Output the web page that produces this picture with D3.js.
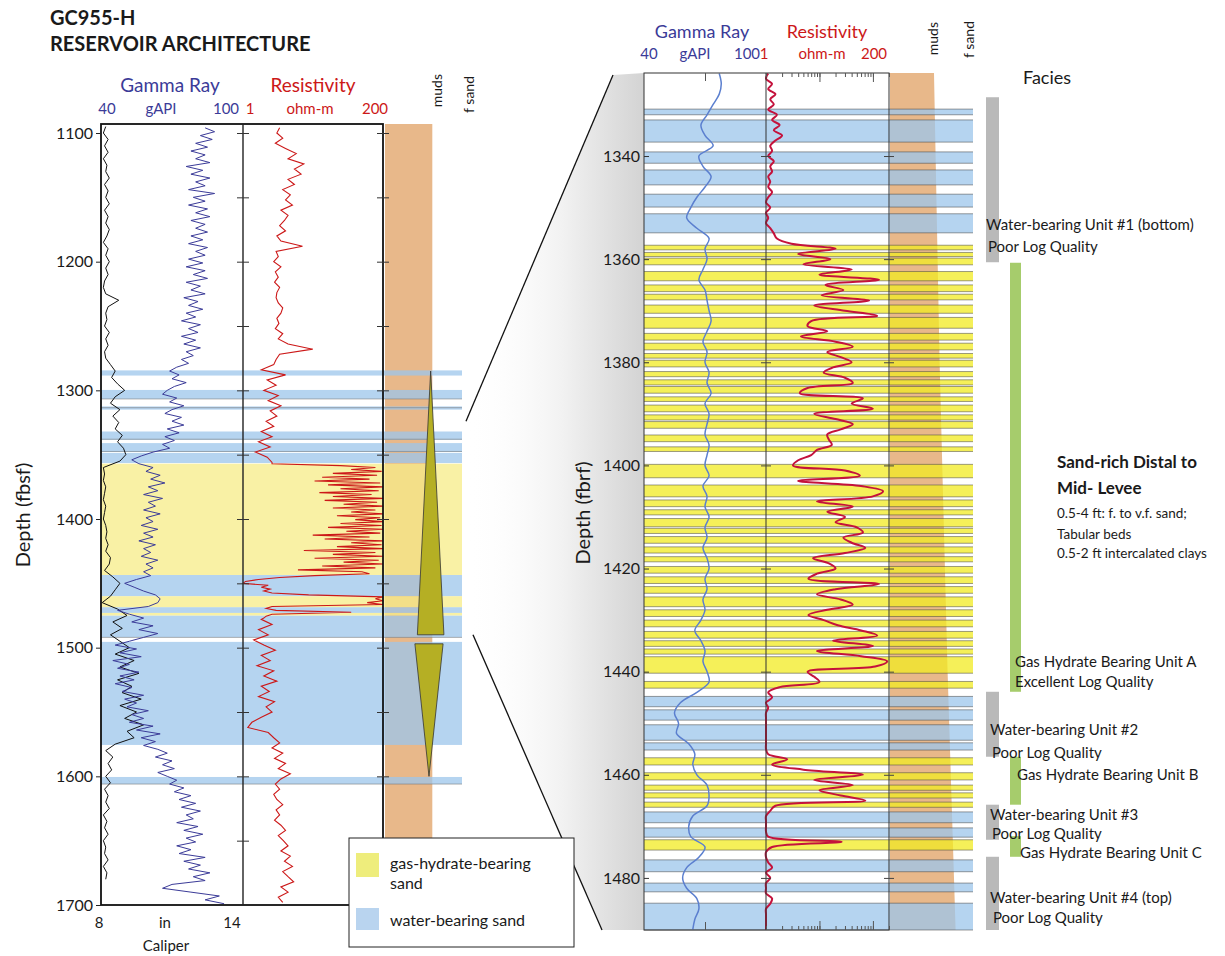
<!DOCTYPE html>
<html>
<head>
<meta charset="utf-8">
<script src="https://cdn.jsdelivr.net/npm/d3@7"></script>
<style>
  body { margin: 0; background: #fff; }
  svg { display: block; }
  text { font-family: Lato, "Open Sans", sans-serif; fill: #1a1a1a; }
</style>
</head>
<body>
<svg id="chart" width="1225" height="956"></svg>
<script>
// ---- data ----
const leftDepthTicks = [1100, 1200, 1300, 1400, 1500, 1600, 1700];
const leftCrossTicks = [1100, 1150, 1200, 1250, 1300, 1350, 1400, 1450, 1500, 1550, 1600, 1650];
const rightDepthTicks = [1340, 1360, 1380, 1400, 1420, 1440, 1460, 1480];
const resLogTicks = [1, 2, 3, 4, 5, 6, 7, 8, 9, 10, 20, 30, 40, 50, 60, 70, 80, 90, 100, 200];
const resMajorTicks = [1, 10, 100];

// caliper (in), 1095 ft every 5 ft
const caliperStart = 1095, caliperStep = 5;
const caliper = [
  8.2, 8.1, 8.3, 8.15, 8.3, 8.1, 8.25, 8.2, 8.35, 8.15,
  8.3, 8.2, 8.35, 8.15, 8.3, 8.2, 8.35, 8.25, 8.1, 8.3,
  8.2, 8.35, 8.2, 8.3, 8.15, 8.1, 8.2, 8.75, 8.3, 8.2,
  8.25, 8.15, 8.35, 8.2, 8.3, 8.15, 8.2, 8.4, 8.6, 8.45,
  8.7, 9.0, 8.6, 8.4, 8.8, 8.5, 8.75, 8.6, 8.9, 8.7,
  8.95, 9.05, 8.8, 8.1, 8.15, 8.1, 8.2, 8.15, 8.1, 8.2,
  8.15, 8.1, 8.2, 8.25, 8.2, 8.3, 8.2, 8.4, 8.35, 8.15,
  8.5, 8.8, 8.6, 8.4, 8.05, 8.7, 9.1, 8.5, 8.9, 8.4,
  8.8, 9.2, 8.6, 9.4, 8.8, 9.6, 8.7, 9.3, 8.9, 9.7,
  8.8, 9.5, 9.0, 9.8, 9.1, 9.4, 8.6, 8.2, 8.5, 8.3,
  8.45, 8.2, 8.4, 8.15, 8.3, 8.2, 8.35, 8.1, 8.25, 8.15,
  8.3, 8.1, 8.2, 8.15, 8.3, 8.1, 8.25, 8.2
];

// gamma ray (gAPI), 1096 ft every 3 ft
const gammaLeftStart = 1096, gammaLeftStep = 3;
const gammaLeft = [
  84, 88, 82, 87, 80, 85, 78, 84, 80, 86,
  76, 83, 78, 86, 80, 84, 77, 88, 79, 84,
  77, 85, 80, 86, 78, 84, 80, 85, 78, 83,
  77, 85, 80, 84, 77, 83, 76, 84, 79, 85,
  76, 82, 78, 84, 75, 81, 77, 83, 76, 80,
  74, 82, 77, 81, 74, 80, 75, 82, 76, 79,
  74, 77, 72, 69, 73, 70, 76, 71, 68, 66,
  72, 69, 75, 70, 67, 74, 70, 75, 68, 73,
  67, 71, 66, 69, 62, 57, 53, 56, 62, 59,
  65, 61, 67, 60, 64, 58, 66, 60, 63, 58,
  65, 59, 62, 57, 64, 58, 62, 56, 63, 58,
  61, 57, 64, 59, 62, 58, 61, 55, 50, 54,
  58, 63, 65, 64, 60, 47, 52, 58, 53, 62,
  56, 64, 58, 52, 46, 55, 48, 57, 45, 52,
  47, 56, 48, 54, 46, 53, 49, 58, 50, 55,
  51, 60, 53, 58, 52, 62, 55, 65, 57, 63,
  58, 64, 68, 63, 70, 66, 71, 64, 68, 72,
  69, 75, 71, 78, 73, 80, 74, 82, 76, 79,
  72, 81, 75, 83, 76, 80, 72, 78, 73, 84,
  75, 82, 77, 86, 79, 84, 70, 66, 78, 90,
  84, 92
];

// resistivity (ohm-m), three depth segments
const resUpperStart = 1096, resUpperStep = 4;
const resUpper = [
  4.0, 3.6, 4.5, 3.4, 5.0, 7.5, 5.5, 10, 7, 9,
  5.5, 7, 4.5, 6, 5, 6.5, 4.2, 5.5, 4.8, 4,
  5, 3.6, 4.2, 9.5, 3.5, 3.8, 3.2, 4.2, 3.4, 3.8,
  3.3, 4.0, 3.6, 3.5, 3.8, 4.5, 4.2, 3.6, 3.9, 3.4,
  4.5, 3.8, 5.5, 14, 4.0, 3.5, 3.2, 2.0, 5.0, 2.5,
  3.5, 2.2, 3.8, 2.6, 4.2, 2.8, 3.6, 2.4, 3.2, 2.0,
  3.0, 1.8, 2.8, 1.6, 2.5, 3.0
];
const resHydrateStart = 1357, resHydrateStep = 1.5;
const resHydrate = [
  3, 40, 150, 60, 190, 30, 160, 20, 120, 15,
  180, 25, 200, 40, 170, 18, 130, 30, 200, 22,
  160, 45, 200, 30, 150, 60, 200, 35, 180, 70,
  200, 40, 190, 25, 200, 50, 180, 14, 120, 22,
  200, 60, 190, 35, 200, 10, 150, 30, 200, 15,
  170, 45, 200, 20, 150, 8, 90, 120, 15, 4,
  1.8, 1.1, 1.0, 2.6, 2.0, 2.8, 2.2, 3.0, 12, 200,
  150, 200, 110, 200, 3, 2.4, 3.5, 60, 3, 2.4,
  2.2
];
const resLowerStart = 1478, resLowerStep = 4;
const resLower = [
  2.0, 3.0, 1.8, 2.6, 1.5, 2.2, 3.4, 2.0, 2.8, 1.7,
  3.2, 2.2, 3.6, 2.0, 2.7, 1.8, 3.3, 2.4, 3.0, 2.0,
  1.4, 1.2, 2.6, 3.2, 4.0, 3.0, 4.5, 3.3, 5.0, 3.8,
  6.0, 4.2, 3.4, 4.0, 3.2, 3.6, 4.5, 3.5, 4.0, 3.3,
  4.2, 5.0, 3.8, 4.6, 5.5, 4.2, 6.0, 4.8, 6.5, 4.5,
  5.5, 6.8, 4.2, 5.5, 3.8, 4.5
];

// detail panel: gamma every 2 ft, resistivity every 1 ft from 1324 ft
const gammaRightStart = 1324, gammaRightStep = 2;
const gammaRight = [
  77, 78, 77, 74, 71, 68, 70, 74, 67, 69,
  73, 70, 66, 63, 61, 66, 72, 70, 71, 69,
  67, 70, 71, 72, 73, 71, 69, 71, 70, 72,
  71, 73, 70, 72, 71, 70, 72, 71, 70, 72,
  69, 71, 70, 72, 70, 71, 69, 71, 72, 70,
  71, 69, 70, 68, 65, 68, 70, 69, 71, 72,
  66, 58, 55, 57, 56, 62, 65, 64, 66, 71,
  72, 71, 64, 62, 63, 70, 67, 61, 59, 61,
  66, 67, 65, 64
];
const resRightStart = 1324, resRightStep = 1;
const resRight = [
  1.1, 1.0, 1.3, 1.1, 1.5, 1.2, 1.4, 1.1, 1.6, 1.3,
  1.8, 1.4, 2.0, 1.5, 1.2, 1.3, 1.1, 1.4, 1.2, 1.3,
  1.1, 1.2, 1.1, 1.3, 1.1, 1.0, 1.2, 1.0, 1.1, 1.0,
  1.2, 1.4, 1.6, 3.0, 20, 4, 16, 5, 40, 10,
  130, 13, 28, 11, 85, 8, 30, 120, 7, 6,
  14, 4.5, 20, 42, 14, 25, 40, 18, 12, 30,
  42, 6, 4.3, 65, 40, 100, 8, 20, 42, 25,
  14, 15, 17, 9, 7, 4, 3.2, 30, 57, 4,
  60, 155, 100, 9, 42, 14, 30, 20, 50, 65,
  28, 40, 72, 30, 7.6, 15, 20, 9, 6.2, 130,
  20, 9, 25, 42, 14, 6.2, 12, 22, 60, 120,
  18, 100, 9, 60, 185, 110, 6, 8, 10, 1.8,
  1.1, 1.3, 1.0, 1.1, 1.0, 1.0, 1.0, 1.0, 1.0, 1.0,
  1.0, 1.0, 1.1, 2.5, 1.3, 5, 65, 8, 42, 10,
  25, 72, 1.5, 1.2, 1.0, 1.0, 1.0, 1.0, 1.1, 26,
  1.3, 1.0, 1.0, 1.1, 1.3, 1.0, 1.2, 1.0, 1.0, 1.0,
  1.3, 1.2, 1.0, 1.0, 1.0, 1.0, 1.0
];

// sand intervals (ft)
const leftWaterSands = [[1284.5, 1288.5], [1299.7, 1306.7], [1312.5, 1315], [1332, 1338.5], [1341, 1348],
  [1348.7, 1356.5], [1443.5, 1460], [1468.5, 1473], [1475, 1492], [1495.5, 1575.6], [1600.5, 1606]];
const leftHydrateSands = [[1357, 1443.5], [1460, 1468.5], [1473, 1475]];
const leftBedLines = [1306.7, 1313.5, 1338, 1347.5, 1492, 1606];

const rightWaterSands = [[1330.9, 1332.0], [1333.0, 1337.3], [1339.2, 1341.4], [1342.7, 1345.6],
  [1347.4, 1349.9], [1351.2, 1354.9], [1444.8, 1446.8], [1447.4, 1449.4], [1450.3, 1453.3],
  [1453.8, 1455.2], [1467.2, 1469.3], [1470.3, 1472.1], [1476.5, 1478.8], [1481.0, 1482.7], [1484.9, 1490.1]];
const rightHydrateSands = [[1357.3, 1358.2], [1358.7, 1359.5], [1359.8, 1361.1], [1362.4, 1364.2],
  [1365.0, 1366.3], [1366.8, 1367.9], [1368.9, 1370.5], [1371.3, 1373.4], [1374.4, 1375.7],
  [1376.3, 1377.6], [1378.3, 1379.2], [1379.6, 1380.9], [1381.8, 1382.8], [1383.4, 1384.4],
  [1384.7, 1386.0], [1386.7, 1387.6], [1388.3, 1389.6], [1390.2, 1391.2], [1391.5, 1392.8],
  [1394.1, 1395.4], [1396.4, 1397.3], [1399.8, 1402.4], [1403.8, 1406.1], [1406.7, 1408.0],
  [1408.6, 1409.6], [1410.3, 1411.9], [1412.2, 1413.2], [1413.8, 1415.1], [1415.8, 1417.0],
  [1417.7, 1418.7], [1419.6, 1420.9], [1421.6, 1422.9], [1423.5, 1424.8], [1425.5, 1427.4],
  [1428.0, 1429.3], [1430.0, 1431.3], [1432.2, 1433.5], [1434.0, 1435.1], [1435.6, 1436.6],
  [1437.1, 1440.3], [1441.9, 1443.2], [1456.7, 1458.1], [1459.6, 1461.0], [1462.0, 1463.0],
  [1463.5, 1464.5], [1465.3, 1466.3], [1472.6, 1474.6]];

// grain size column (0 = muds, 1 = f sand)
const leftMudDepths = [1093, 1700];
const leftMudGrain = [0.57, 0.57];
const rightMudDepths = [1323.9, 1380, 1440, 1490.1];
const rightMudGrain = [0.55, 0.62, 0.72, 0.82];
const sandTrends = [
  { top: 1285, bottom: 1490, wide: 'bottom', grain: 0.55, spread: 0.16 },
  { top: 1497, bottom: 1600, wide: 'top', grain: 0.53, spread: 0.17 }
];

const faciesUnits = [
  { top: 1328.6, bottom: 1360.6, type: 'water' },
  { top: 1360.7, bottom: 1443.9, type: 'hydrate' },
  { top: 1443.9, bottom: 1456.5, type: 'water' },
  { top: 1456.5, bottom: 1465.8, type: 'hydrate' },
  { top: 1465.8, bottom: 1472.6, type: 'water' },
  { top: 1471.9, bottom: 1475.9, type: 'hydrate' },
  { top: 1475.9, bottom: 1490.1, type: 'water' }
];

const legendItems = ['gas-hydrate-bearing|sand', 'water-bearing sand'];

// ---- drawing ----
const svg = d3.select('#chart');
const defs = svg.append('defs');

const col = {
  gamma: '#3b3b98', res: '#cc1818', gammaR: '#5b7fcf', resR: '#c4123c',
  blue: '#9cc6eb', yellowL: '#f7ec87', yellowR: '#f2eb22', tan: '#e8b88a',
  grey: '#b9b9b9', green: '#a6cc6c', olive: '#b5af24'
};

function series(start, step, values) {
  return values.map((v, i) => ({ d: start + i * step, v: v }));
}

const yL = d3.scaleLinear().domain([1093, 1700]).range([124, 905]);
const xCal = d3.scaleLinear().domain([8, 14]).range([101, 243]);
const xGrL = d3.scaleLinear().domain([40, 100]).range([101, 243]);
const xResL = d3.scaleLog().domain([1, 200]).range([243, 383]).clamp(true);
const grainL = d3.scaleLinear().domain([0, 1]).range([385, 468]);

const yR = d3.scaleLinear().domain([1323.9, 1490.1]).range([73, 930]);
const xGrR = d3.scaleLinear().domain([40, 100]).range([644, 766]);
const xResR = d3.scaleLog().domain([1, 200]).range([766, 889]).clamp(true);
const grainR = d3.scaleLinear().domain([0, 1]).range([890, 970]);

defs.append('clipPath').attr('id', 'clipL').append('rect')
  .attr('x', 101).attr('y', 124).attr('width', 283).attr('height', 781);
defs.append('clipPath').attr('id', 'clipR').append('rect')
  .attr('x', 644).attr('y', 73).attr('width', 245).attr('height', 857);

// zoom funnel shading
const grad = defs.append('linearGradient').attr('id', 'funnel')
  .attr('gradientUnits', 'userSpaceOnUse').attr('x1', 466).attr('x2', 644).attr('y1', 0).attr('y2', 0);
grad.append('stop').attr('offset', 0).attr('stop-color', '#ffffff').attr('stop-opacity', 0);
grad.append('stop').attr('offset', 0.55).attr('stop-color', '#f1f1f1').attr('stop-opacity', 1);
grad.append('stop').attr('offset', 1).attr('stop-color', '#d3d3d3').attr('stop-opacity', 1);

const topL = yL(1324), botL = yL(1490);
svg.append('path')
  .attr('d', `M466,${topL} L613,75 L644,73 L644,930 L602,930 L473,${botL} Z`)
  .attr('fill', 'url(#funnel)');
svg.append('line').attr('x1', 466).attr('y1', topL).attr('x2', 613).attr('y2', 75)
  .attr('stroke', '#111').attr('stroke-width', 1.3);
svg.append('line').attr('x1', 473).attr('y1', botL).attr('x2', 602).attr('y2', 930)
  .attr('stroke', '#111').attr('stroke-width', 1.3);

// ---------- left panel ----------
const gL = svg.append('g');

const mudAreaL = d3.area().x0(grainL(0)).x1(d => grainL(d.g)).y(d => yL(d.d));
gL.append('path')
  .attr('d', mudAreaL(leftMudDepths.map((d, i) => ({ d: d, g: leftMudGrain[i] }))))
  .attr('fill', col.tan);

gL.selectAll('rect.wl').data(leftWaterSands).join('rect')
  .attr('x', 101).attr('width', 361)
  .attr('y', d => yL(d[0])).attr('height', d => yL(d[1]) - yL(d[0]))
  .attr('fill', col.blue).attr('fill-opacity', 0.75);
gL.selectAll('rect.yl').data(leftHydrateSands).join('rect')
  .attr('x', 101).attr('width', 361)
  .attr('y', d => yL(d[0])).attr('height', d => yL(d[1]) - yL(d[0]))
  .attr('fill', col.yellowL).attr('fill-opacity', 0.75);
gL.selectAll('line.bl').data(leftBedLines).join('line')
  .attr('x1', 101).attr('x2', 462).attr('y1', d => yL(d)).attr('y2', d => yL(d))
  .attr('stroke', '#777').attr('stroke-width', 0.8).attr('stroke-opacity', 0.7);

sandTrends.forEach(t => {
  const c = grainL(t.grain), w = grainL(t.spread) - grainL(0);
  const pts = t.wide === 'bottom'
    ? [[c, yL(t.top)], [c - w, yL(t.bottom)], [c + w, yL(t.bottom)]]
    : [[c - w, yL(t.top)], [c + w, yL(t.top)], [c, yL(t.bottom)]];
  gL.append('path').attr('d', 'M' + pts.join('L') + 'Z')
    .attr('fill', col.olive).attr('stroke', '#333').attr('stroke-width', 0.8);
});

const curvesL = gL.append('g').attr('clip-path', 'url(#clipL)');
curvesL.append('path')
  .attr('d', d3.line().x(d => xCal(d.v)).y(d => yL(d.d))(series(caliperStart, caliperStep, caliper)))
  .attr('fill', 'none').attr('stroke', '#111').attr('stroke-width', 1);
curvesL.append('path')
  .attr('d', d3.line().x(d => xGrL(d.v)).y(d => yL(d.d))(series(gammaLeftStart, gammaLeftStep, gammaLeft)))
  .attr('fill', 'none').attr('stroke', col.gamma).attr('stroke-width', 1);
const resL = series(resUpperStart, resUpperStep, resUpper)
  .concat(series(resHydrateStart, resHydrateStep, resHydrate))
  .concat(series(resLowerStart, resLowerStep, resLower));
curvesL.append('path')
  .attr('d', d3.line().x(d => xResL(d.v)).y(d => yL(d.d))(resL))
  .attr('fill', 'none').attr('stroke', col.res).attr('stroke-width', 1.1);

gL.append('rect').attr('x', 101).attr('y', 124).attr('width', 282).attr('height', 781)
  .attr('fill', 'none').attr('stroke', '#111').attr('stroke-width', 1.8);
gL.append('line').attr('x1', 243).attr('x2', 243).attr('y1', 124).attr('y2', 905)
  .attr('stroke', '#222').attr('stroke-width', 1.4);

[243, 383].forEach(x => {
  const a = gL.append('g').attr('transform', `translate(${x - 6},0)`)
    .call(d3.axisRight(yL).tickValues(leftCrossTicks).tickSize(12).tickFormat(''));
  a.select('.domain').remove();
  a.selectAll('line').attr('stroke', '#333').attr('stroke-width', 1);
});

const axL = gL.append('g').attr('transform', 'translate(101,0)')
  .call(d3.axisLeft(yL).tickValues(leftDepthTicks).tickSize(5).tickPadding(3).tickFormat(d3.format('d')));
axL.select('.domain').remove();
axL.selectAll('text').style('font-size', '16px').style('font-family', 'Lato, sans-serif').attr('fill', '#1a1a1a');
axL.selectAll('line').attr('stroke', '#222');

// ---------- right panel ----------
const gR = svg.append('g');
const mudAreaR = d3.area().x0(grainR(0)).x1(d => grainR(d.g)).y(d => yR(d.d));
gR.append('path')
  .attr('d', mudAreaR(rightMudDepths.map((d, i) => ({ d: d, g: rightMudGrain[i] }))))
  .attr('fill', col.tan);

gR.selectAll('rect.wr').data(rightWaterSands).join('rect')
  .attr('x', 644).attr('width', 329)
  .attr('y', d => yR(d[0])).attr('height', d => yR(d[1]) - yR(d[0]))
  .attr('fill', col.blue).attr('fill-opacity', 0.75);
gR.selectAll('rect.yr').data(rightHydrateSands).join('rect')
  .attr('x', 644).attr('width', 329)
  .attr('y', d => yR(d[0])).attr('height', d => yR(d[1]) - yR(d[0]))
  .attr('fill', col.yellowR).attr('fill-opacity', 0.75);
const edgesR = [];
rightWaterSands.concat(rightHydrateSands).forEach(b => { edgesR.push(b[0], b[1]); });
gR.selectAll('line.er').data(edgesR).join('line')
  .attr('x1', 644).attr('x2', 973).attr('y1', d => yR(d)).attr('y2', d => yR(d))
  .attr('stroke', '#444').attr('stroke-width', 0.7).attr('stroke-opacity', 0.75);

const curvesR = gR.append('g').attr('clip-path', 'url(#clipR)');
curvesR.append('path')
  .attr('d', d3.line().curve(d3.curveCatmullRom).x(d => xGrR(d.v)).y(d => yR(d.d))(series(gammaRightStart, gammaRightStep, gammaRight)))
  .attr('fill', 'none').attr('stroke', col.gammaR).attr('stroke-width', 1.5);
curvesR.append('path')
  .attr('d', d3.line().curve(d3.curveCatmullRom).x(d => xResR(d.v)).y(d => yR(d.d))(series(resRightStart, resRightStep, resRight)))
  .attr('fill', 'none').attr('stroke', col.resR).attr('stroke-width', 2);

gR.append('rect').attr('x', 644).attr('y', 73).attr('width', 245).attr('height', 857)
  .attr('fill', 'none').attr('stroke', '#333').attr('stroke-width', 1);
gR.append('line').attr('x1', 766).attr('x2', 766).attr('y1', 73).attr('y2', 930)
  .attr('stroke', '#333').attr('stroke-width', 1);

[766, 889].forEach(x => {
  const a = gR.append('g').attr('transform', `translate(${x - 5},0)`)
    .call(d3.axisRight(yR).tickValues(rightDepthTicks).tickSize(10).tickFormat(''));
  a.select('.domain').remove();
  a.selectAll('line').attr('stroke', '#444');
});

const axR = gR.append('g').attr('transform', 'translate(644,0)')
  .call(d3.axisLeft(yR).tickValues(rightDepthTicks).tickSizeInner(-5).tickSizeOuter(0).tickPadding(4).tickFormat(d3.format('d')));
axR.select('.domain').remove();
axR.selectAll('text').style('font-size', '16px').style('font-family', 'Lato, sans-serif').attr('fill', '#1a1a1a');
axR.selectAll('line').attr('stroke', '#333');

// log ticks along resistivity track, top and bottom
[[73, d3.axisBottom], [930, d3.axisTop]].forEach(p => {
  const minor = gR.append('g').attr('transform', `translate(0,${p[0]})`)
    .call(p[1](xResR).tickValues(resLogTicks).tickSize(4).tickFormat(''));
  const major = gR.append('g').attr('transform', `translate(0,${p[0]})`)
    .call(p[1](xResR).tickValues(resMajorTicks.slice(1)).tickSize(9).tickFormat(''));
  const gam = gR.append('g').attr('transform', `translate(0,${p[0]})`)
    .call(p[1](xGrR).tickValues([70]).tickSize(8).tickFormat(''));
  [minor, major, gam].forEach(a => { a.select('.domain').remove(); a.selectAll('line').attr('stroke', '#555'); });
});

// facies bars
svg.selectAll('rect.fac').data(faciesUnits).join('rect')
  .attr('x', d => d.type === 'water' ? 986 : 1010)
  .attr('width', d => d.type === 'water' ? 13 : 11)
  .attr('y', d => yR(d.top)).attr('height', d => yR(d.bottom) - yR(d.top))
  .attr('fill', d => d.type === 'water' ? col.grey : col.green);

// ---------- text ----------
function txt(x, y, s, size, opts) {
  opts = opts || {};
  const t = svg.append('text').attr('x', x).attr('y', y).text(s)
    .style('font-size', size + 'px')
    .attr('text-anchor', opts.anchor || 'start')
    .attr('font-weight', opts.bold ? 'bold' : 'normal');
  if (opts.fill) t.style('fill', opts.fill);
  if (opts.rotate) t.attr('transform', `rotate(-90,${x},${y})`);
  return t;
}

txt(50, 25, 'GC955-H', 20, { bold: true });
txt(50, 51, 'RESERVOIR ARCHITECTURE', 20, { bold: true });

txt(170, 92, 'Gamma Ray', 19, { anchor: 'middle', fill: col.gamma });
txt(313, 92, 'Resistivity', 19, { anchor: 'middle', fill: col.res });
txt(107, 114, '40', 15, { anchor: 'middle', fill: col.gamma });
txt(161, 114, 'gAPI', 15, { anchor: 'middle', fill: col.gamma });
txt(226, 114, '100', 15, { anchor: 'middle', fill: col.gamma });
txt(250, 114, '1', 15, { anchor: 'middle', fill: col.res });
txt(310, 114, 'ohm-m', 15, { anchor: 'middle', fill: col.res });
txt(375, 114, '200', 15, { anchor: 'middle', fill: col.res });
txt(442, 74, 'muds', 14, { anchor: 'end', rotate: true });
txt(474, 76, 'f sand', 14, { anchor: 'end', rotate: true });

txt(702, 38, 'Gamma Ray', 18, { anchor: 'middle', fill: col.gamma });
txt(827, 38, 'Resistivity', 18, { anchor: 'middle', fill: col.res });
txt(649, 59, '40', 15, { anchor: 'middle', fill: col.gamma });
txt(695, 59, 'gAPI', 15, { anchor: 'middle', fill: col.gamma });
txt(747, 59, '100', 15, { anchor: 'middle', fill: col.gamma });
txt(764, 59, '1', 15, { anchor: 'middle', fill: col.res });
txt(822, 59, 'ohm-m', 15, { anchor: 'middle', fill: col.res });
txt(874, 59, '200', 15, { anchor: 'middle', fill: col.res });
txt(938, 22, 'muds', 14, { anchor: 'end', rotate: true });
txt(974, 21, 'f sand', 14, { anchor: 'end', rotate: true });

txt(30, 515, 'Depth (fbsf)', 20, { anchor: 'middle', rotate: true });
txt(590, 513, 'Depth (fbrf)', 20, { anchor: 'middle', rotate: true });

txt(99, 928, '8', 15, { anchor: 'middle' });
txt(165, 928, 'in', 15, { anchor: 'middle' });
txt(232, 928, '14', 15, { anchor: 'middle' });
txt(166, 951, 'Caliper', 15, { anchor: 'middle' });

txt(1023, 84, 'Facies', 18);
txt(986, 230, 'Water-bearing Unit #1 (bottom)', 15);
txt(988, 252, 'Poor Log Quality', 15);
txt(1057, 468, 'Sand-rich Distal to', 17, { bold: true });
txt(1057, 494, 'Mid- Levee', 17, { bold: true });
txt(1057, 518, '0.5-4 ft: f. to v.f. sand;', 13.5);
txt(1057, 539, 'Tabular beds', 13.5);
txt(1057, 558, '0.5-2 ft intercalated clays', 13.5);
txt(1015, 667, 'Gas Hydrate Bearing Unit A', 15);
txt(1015, 687, 'Excellent Log Quality', 15);
txt(990, 735, 'Water-bearing Unit #2', 15);
txt(992, 758, 'Poor Log Quality', 15);
txt(1017, 780, 'Gas Hydrate Bearing Unit B', 15);
txt(990, 820, 'Water-bearing Unit #3', 15);
txt(992, 839, 'Poor Log Quality', 15);
txt(1020, 858, 'Gas Hydrate Bearing Unit C', 15);
txt(990, 903, 'Water-bearing Unit #4 (top)', 15);
txt(993, 923, 'Poor Log Quality', 15);

// legend
const lg = svg.append('g');
lg.append('rect').attr('x', 349).attr('y', 838).attr('width', 225).attr('height', 109)
  .attr('fill', '#fff').attr('stroke', '#222').attr('stroke-width', 1);
lg.append('rect').attr('x', 356).attr('y', 853).attr('width', 23).attr('height', 24).attr('fill', '#eeed7c');
lg.append('rect').attr('x', 356).attr('y', 908).attr('width', 23).attr('height', 22).attr('fill', '#b9d4ef');
legendItems[0].split('|').forEach((s, i) => txt(390, 869 + i * 20, s, 16));
txt(390, 926, legendItems[1], 16);
</script>
</body>
</html>
